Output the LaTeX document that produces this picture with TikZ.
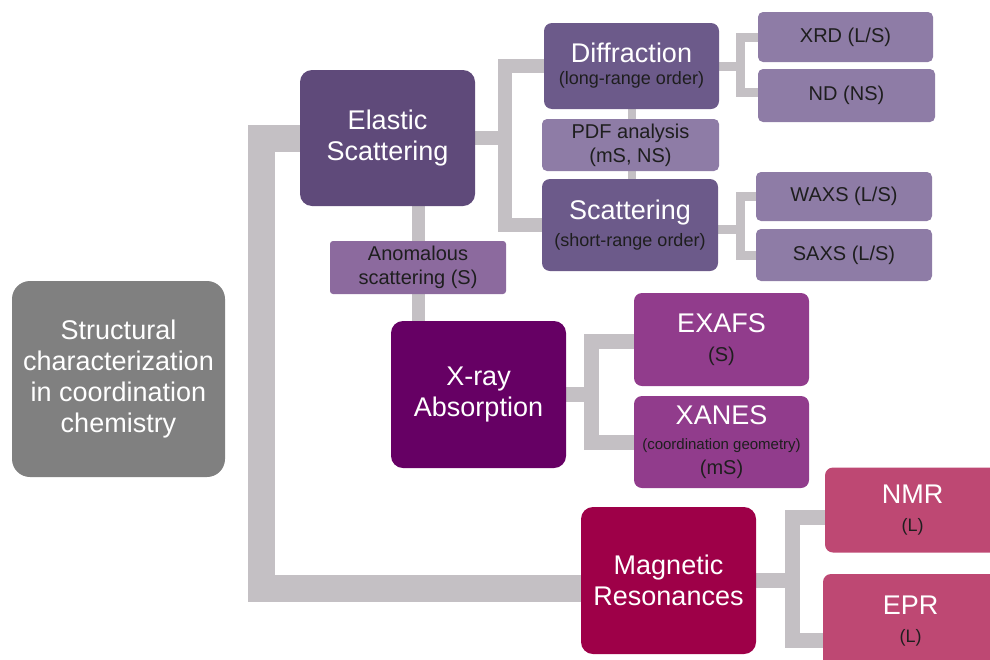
\documentclass[tikz,border=0pt]{standalone}
\usepackage{fontspec}
\setmainfont{Liberation Sans}
\usetikzlibrary{calc,backgrounds}

\definecolor{rootgray}{RGB}{128,128,128}
\definecolor{elastcol}{RGB}{95,74,122}
\definecolor{diffcol}{RGB}{108,90,138}
\definecolor{lightcol}{RGB}{142,124,166}
\definecolor{anomcol}{RGB}{140,106,158}
\definecolor{xraycol}{RGB}{102,0,100}
\definecolor{exafscol}{RGB}{145,60,140}
\definecolor{magncol}{RGB}{158,0,72}
\definecolor{nmrcol}{RGB}{190,72,115}
\definecolor{linkgray}{RGB}{196,192,196}
\definecolor{darktext}{RGB}{30,30,30}

\newcommand\hdfont{\fontsize{27}{31}\selectfont}
\newcommand\mdfont{\fontsize{20}{24}\selectfont}
% dark subtitle line
\newcommand\subline[1]{\fontsize{#1}{#1}\selectfont\color{darktext}}

\tikzset{
  box/.style={rounded corners=12pt, inner sep=0pt, align=center, text=white, font=\hdfont},
  leaf/.style={rounded corners=5pt, inner sep=0pt, align=center, text=darktext, font=\mdfont, fill=lightcol},
  conn/.style={draw=linkgray, line join=miter},
}

\begin{document}
\begin{tikzpicture}[x=1pt,y=-1pt]
\useasboundingbox (0,0) rectangle (990,659);
\clip (0,0) rectangle (990,659);

% root
\node[box, fill=rootgray, rounded corners=18pt, minimum width=213pt, minimum height=196pt] (root) at (118.5,379)
  {Structural\\characterization\\in coordination\\chemistry};

% elastic scattering branch
\node[box, fill=elastcol, minimum width=175pt, minimum height=136pt] (elastic) at (387.5,138) {Elastic\\Scattering};
\node[leaf, fill=anomcol, rounded corners=3pt, minimum width=176pt, minimum height=53pt] (anom) at (418,267.5) {Anomalous\\scattering (S)};

\node[box, fill=diffcol, rounded corners=8pt, minimum width=175pt, minimum height=86pt] (diff) at (631.5,66)
  {Diffraction\\[-9pt]\subline{18}(long-range order)};
\node[leaf, minimum width=177pt, minimum height=52pt] (pdf) at (630.5,145) {PDF analysis\\(mS, NS)};
\node[box, fill=diffcol, rounded corners=8pt, minimum width=176pt, minimum height=92pt] (scat) at (630,225)
  {Scattering\\[-4pt]\subline{18}(short-range order)};

\node[leaf, minimum width=175pt, minimum height=50pt] (xrd) at (845.5,37) {XRD (L/S)};
\node[leaf, minimum width=177pt, minimum height=53pt] (nd) at (846.5,95.5) {ND (NS)};
\node[leaf, minimum width=176pt, minimum height=49pt] (waxs) at (844,196.5) {WAXS (L/S)};
\node[leaf, minimum width=176pt, minimum height=52pt] (saxs) at (844,255) {SAXS (L/S)};

% x-ray absorption branch
\node[box, fill=xraycol, minimum width=175pt, minimum height=147pt] (xray) at (478.5,394.5) {X-ray\\Absorption};
\node[box, fill=exafscol, rounded corners=8pt, minimum width=175pt, minimum height=93pt] (exafs) at (721.5,339.5)
  {EXAFS\\[-2pt]\subline{20}(S)};
\node[box, fill=exafscol, rounded corners=8pt, minimum width=175pt, minimum height=92pt] (xanes) at (721.5,442)
  {XANES\\[-6pt]\subline{15}(coordination geometry)\\[-6pt]\subline{20}(mS)};

% magnetic resonances branch
\node[box, fill=magncol, minimum width=175pt, minimum height=147pt] (magn) at (668.5,580.5) {Magnetic\\Resonances};
\node[box, fill=nmrcol, rounded corners=8pt, minimum width=175pt, minimum height=85pt] (nmr) at (912.5,510)
  {NMR\\[-3pt]\subline{18}(L)};
\node[box, fill=nmrcol, rounded corners=8pt, minimum width=175pt, minimum height=94pt] (epr) at (910.5,621)
  {EPR\\[-3pt]\subline{18}(L)};

% junctions
\coordinate (T1) at (261.5,138);
\coordinate (T2) at (261.5,588);
\coordinate (Ej) at (504.5,138);
\coordinate (Dj) at (740,66);
\coordinate (Sj) at (740,225);
\coordinate (Xj) at (591.5,394.5);
\coordinate (Mj) at (792,580.5);

\begin{scope}[on background layer]
  \draw[conn, line width=27pt] (elastic.west) -- (T1) -- (T2) -- (T2 -| magn.west);
  \draw[conn, line width=27pt] ($(root.east)+(0,8)$) -- ($(root.east)+(0,8)$ -| xray.west);
  \draw[conn, line width=13pt] (elastic.south -| anom) -- (xray.north -| anom);

  \draw[conn, line width=14pt] (elastic.east) -- (Ej);
  \draw[conn, line width=14pt] (diff.west) -| (Ej) |- (scat.west);
  \draw[conn, line width=8pt] (diff.south) -- (diff.south |- scat.north);

  \draw[conn, line width=9pt] (diff.east) -- (Dj);
  \draw[conn, line width=9pt] (xrd.west) -| (Dj) |- ($(nd.west)+(0,-3)$);
  \draw[conn, line width=9pt] ($(scat.east)+(0,4)$) -- ($(Sj)+(0,4)$);
  \draw[conn, line width=9pt] (waxs.west) -| (Sj) |- (saxs.west);

  \draw[conn, line width=15pt] (xray.east) -- (Xj);
  \draw[conn, line width=15pt] ($(exafs.west)+(0,2)$) -| (Xj) |- (xanes.west);

  \draw[conn, line width=15pt] (magn.east) -- (Mj);
  \draw[conn, line width=15pt] ($(nmr.west)+(0,7)$) -| (Mj) |- ($(epr.west)+(0,19)$);
\end{scope}
\end{tikzpicture}
\end{document}
